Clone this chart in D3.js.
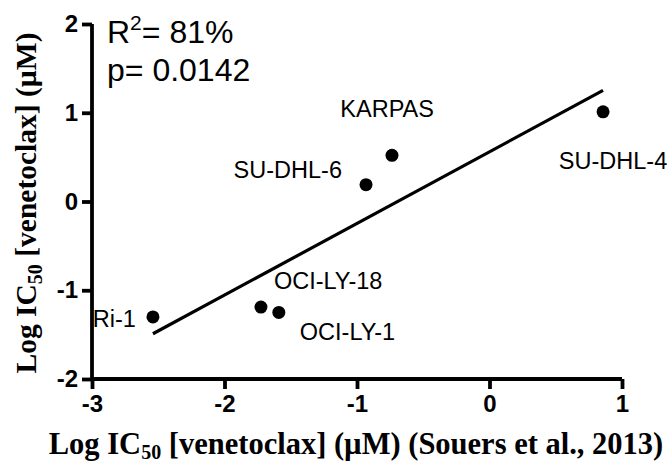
<!DOCTYPE html>
<html><head><meta charset="utf-8">
<script src="https://cdn.jsdelivr.net/npm/d3@7"></script>
<style>body{margin:0;background:#fff}svg{display:block}</style>
</head><body>
<svg id="c" width="667" height="462"></svg>
<script>
const cellLines = ["Ri-1","OCI-LY-18","OCI-LY-1","SU-DHL-6","KARPAS","SU-DHL-4"];
const xValues = [-2.54,-1.725,-1.59,-0.932,-0.736,0.857];
const yValues = [-1.30,-1.19,-1.25,0.19,0.52,1.01];
const xTicks = [-3,-2,-1,0,1];
const yTicks = [-2,-1,0,1,2];
const statsLines = ["81%","0.0142"];

const svg = d3.select("#c");
const x = d3.scaleLinear().domain([-3,1]).range([92,622]);
const y = d3.scaleLinear().domain([-2,2]).range([379,24]);

// regression
const n = xValues.length;
const mx = d3.mean(xValues), my = d3.mean(yValues);
let sxy=0,sxx=0;
for(let i=0;i<n;i++){sxy+=(xValues[i]-mx)*(yValues[i]-my);sxx+=(xValues[i]-mx)**2;}
const slope=sxy/sxx, icpt=my-slope*mx;
const [x0,x1]=d3.extent(xValues);

svg.append("line").attr("x1",x(x0)).attr("y1",y(icpt+slope*x0))
  .attr("x2",x(x1)).attr("y2",y(icpt+slope*x1))
  .attr("stroke","#000").attr("stroke-width",3.2);

// axes
const fmt = d => String(d);
const xAxis = svg.append("g").attr("transform","translate(0,379)")
  .call(d3.axisBottom(x).tickValues(xTicks).tickSize(10).tickPadding(6).tickFormat(fmt));
const yAxis = svg.append("g").attr("transform","translate(92,0)")
  .call(d3.axisLeft(y).tickValues(yTicks).tickSize(10).tickPadding(4).tickFormat(fmt));
[xAxis,yAxis].forEach(g=>{
  g.select(".domain").attr("stroke","#000").attr("stroke-width",3.8);
  g.selectAll(".tick line").attr("stroke","#000").attr("stroke-width",3.8);
  g.selectAll(".tick text").attr("font-family","Liberation Sans, Arial, sans-serif")
    .attr("font-weight","bold").attr("font-size",24).attr("fill","#000");
});
xAxis.select(".domain").attr("d","M"+x(-3)+",0H"+x(1));
yAxis.select(".domain").attr("d","M0,"+y(-2)+"V"+y(2));

// points
svg.selectAll("circle.pt").data(xValues).join("circle")
  .attr("cx",(d)=>x(d)).attr("cy",(d,i)=>y(yValues[i])).attr("r",6.5).attr("fill","#000");

// labels
const labelPos = [
  {anchor:"end", dx:-17, dy:10},
  {anchor:"start", dx:13, dy:-18},
  {anchor:"start", dx:21, dy:28},
  {anchor:"end", dx:-24, dy:-7},
  {anchor:"end", dx:42, dy:-38},
  {anchor:"middle", dx:10, dy:57}
];
svg.selectAll("text.lbl").data(cellLines).join("text")
  .attr("x",(d,i)=>x(xValues[i])+labelPos[i].dx)
  .attr("y",(d,i)=>y(yValues[i])+labelPos[i].dy)
  .attr("text-anchor",(d,i)=>labelPos[i].anchor)
  .attr("font-family","Liberation Sans, Arial, sans-serif").attr("font-size",23.5)
  .text(d=>d);

// stats
const st = svg.append("g").attr("font-family","Liberation Sans, Arial, sans-serif").attr("font-size",32);
const t1 = st.append("text").attr("x",107).attr("y",43);
t1.append("tspan").text("R");
t1.append("tspan").attr("font-size",21).attr("dy",-13).text("2");
t1.append("tspan").attr("dy",13).text("= "+statsLines[0]);
st.append("text").attr("x",107).attr("y",81).text("p= "+statsLines[1]);

// axis titles
const tf = "Liberation Serif, Times New Roman, serif";
const xt = svg.append("text").attr("x",356).attr("y",454).attr("text-anchor","middle")
  .attr("font-family",tf).attr("font-weight","bold").attr("font-size",30.5);
xt.append("tspan").text("Log IC");
xt.append("tspan").attr("font-size",20).attr("dy",5).text("50");
xt.append("tspan").attr("dy",-5).text(" [venetoclax] (µM) (Souers et al., 2013)");

const yt = svg.append("text").attr("transform","translate(36,203) rotate(-90)").attr("text-anchor","middle")
  .attr("font-family",tf).attr("font-weight","bold").attr("font-size",29.5);
yt.append("tspan").text("Log IC");
yt.append("tspan").attr("font-size",20).attr("dy",6).text("50");
yt.append("tspan").attr("dy",-6).text(" [venetoclax] (µM)");
</script>
</body></html>
